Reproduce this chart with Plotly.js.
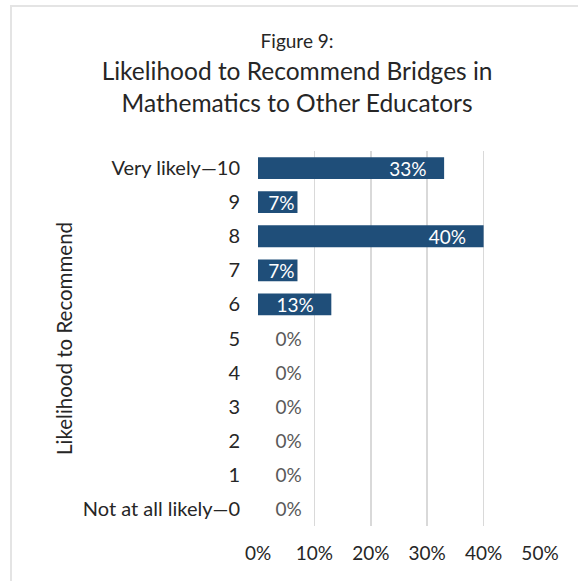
<!DOCTYPE html>
<html>
<head>
<meta charset="utf-8">
<script src="https://cdn.plot.ly/plotly-3.0.1.min.js"></script>
<style>
  html, body { margin: 0; padding: 0; background: #ffffff; }
  #wrap { position: relative; width: 578px; height: 581px; }
  #chart { width: 578px; height: 581px; }
  #frame { position: absolute; left: 10px; top: 5px; right: -10px; bottom: -10px;
           border-left: 2px solid #e4e4e4; border-top: 2px solid #e4e4e4; pointer-events: none; }
</style>
</head>
<body>
<div id="wrap">
  <div id="chart"></div>
  <div id="frame"></div>
</div>
<script>
// Data (bottom to top)
const categories = ["Not at all likely\u20140", "1", "2", "3", "4", "5", "6", "7", "8", "9", "Very likely\u201410"];
const percentages = [0, 0, 0, 0, 0, 0, 13, 7, 40, 7, 33];
const xTickValues = [0, 10, 20, 30, 40, 50];
const xTickLabels = ["0%", "10%", "20%", "30%", "40%", "50%"];

const FONT = "Lato, 'Liberation Sans', sans-serif";
const NB = "\u00a0";

// label text: zero bars get a small lead-in, wide bars a small trailing gap
const labels = percentages.map(v => v === 0 ? NB.repeat(3) + v + "%" : v + "%" + (v >= 10 ? NB.repeat(3) : ""));
const positions = percentages.map(v => v > 0 ? "inside" : "outside");

const trace = {
  type: "bar",
  orientation: "h",
  y: categories,
  x: percentages,
  text: labels,
  textposition: positions,
  insidetextanchor: "end",
  constraintext: "none",
  cliponaxis: false,
  textfont: { family: FONT, size: 19 },
  insidetextfont: { family: FONT, size: 19, color: "#ffffff" },
  outsidetextfont: { family: FONT, size: 19, color: "#595959" },
  marker: { color: "#1f4e79", line: { width: 0 } },
  hoverinfo: "none"
};

const layout = {
  width: 578,
  height: 581,
  margin: { l: 258, r: 38, t: 151, b: 55 },
  paper_bgcolor: "#ffffff",
  plot_bgcolor: "#ffffff",
  bargap: 0.36,
  showlegend: false,
  font: { family: FONT, color: "#262626" },
  title: {
    text: "<span style='font-size:19px'>Figure 9:</span><br>Likelihood to Recommend Bridges in<br>Mathematics to Other Educators",
    font: { family: FONT, size: 24.5, color: "#262626" },
    xref: "container",
    x: 0.514,
    xanchor: "center",
    yref: "container",
    y: 0.917,
    yanchor: "top"
  },
  xaxis: {
    range: [0, 50],
    tickvals: xTickValues,
    ticktext: xTickLabels,
    showgrid: true,
    gridcolor: "#d9d9d9",
    gridwidth: 1.5,
    zeroline: false,
    showline: false,
    ticks: "",
    ticklabelstandoff: 14,
    tickfont: { family: FONT, size: 19, color: "#262626" },
    fixedrange: true
  },
  yaxis: {
    type: "category",
    categoryorder: "array",
    categoryarray: categories,
    showgrid: false,
    zeroline: false,
    showline: false,
    ticks: "",
    ticklabelstandoff: 17,
    tickfont: { family: FONT, size: 20, color: "#262626" },
    title: {
      text: "Likelihood to Recommend",
      font: { family: FONT, size: 20.5, color: "#262626" },
      standoff: 4
    },
    fixedrange: true
  }
};

Plotly.newPlot("chart", [trace], layout, { displayModeBar: false, staticPlot: true });
</script>
</body>
</html>
